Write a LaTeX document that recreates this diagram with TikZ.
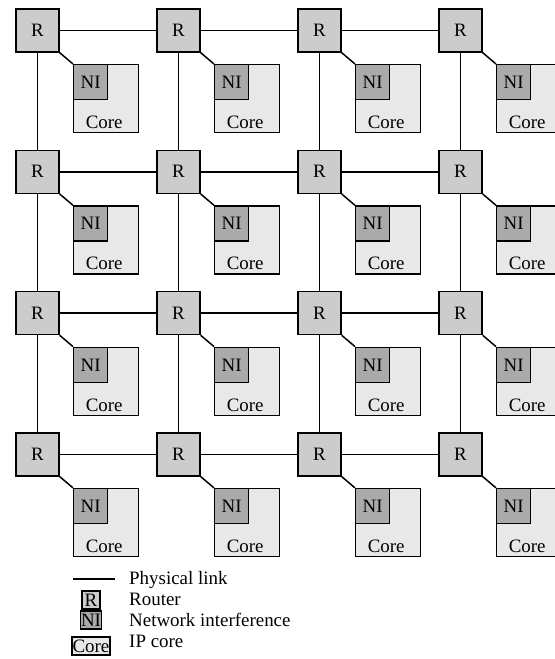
\documentclass[tikz,border=0pt]{standalone}
\usepackage{fontspec}
\setmainfont{Liberation Serif}
\definecolor{rfill}{RGB}{204,204,204}
\definecolor{nifill}{RGB}{170,170,170}
\definecolor{cfill}{RGB}{232,232,232}
\begin{document}
\begin{tikzpicture}[x=1bp,y=-1bp,
  every node/.style={font=\fontsize{19}{21}\selectfont},
  router/.style={draw,line width=1.4bp,fill=rfill,minimum width=43bp,minimum height=43bp,inner sep=0pt},
  corebox/.style={draw,line width=1.4bp,fill=cfill,minimum width=65bp,minimum height=68bp,inner sep=0pt,anchor=north west},
  nibox/.style={draw,line width=1.4bp,fill=nifill,minimum width=34bp,minimum height=35bp,inner sep=0pt,anchor=north west},
  link/.style={line width=1.5bp},
  lgbox/.style={draw,line width=1.2bp,inner sep=0.6bp,minimum height=18bp}]
\useasboundingbox (0,0) rectangle (555,659);
\clip (0,0) rectangle (555,659);
\foreach \i in {0,1,2,3}{
  \foreach \j in {0,1,2,3}{
    \pgfmathsetmacro{\cx}{37.5+141*\i}
    \pgfmathsetmacro{\cy}{30.5+141.3*\j}
    \node[corebox] (c\i\j) at (\cx+35.5,\cy+33.5) {};
    \node[nibox] (n\i\j) at (c\i\j.north west) {NI};
    \node[anchor=base,inner sep=0pt] at ([xshift=-2bp,yshift=5bp]c\i\j.south) {Core};
    \node[router] (r\i\j) at (\cx,\cy) {R};
    \draw[link] (r\i\j.south east) -- (c\i\j.north west);
  }
}
\foreach \i/\k in {0/1,1/2,2/3}{
  \foreach \j in {0,1,2,3}{
    \draw[link] (r\i\j) -- (r\k\j);
    \draw[link] (r\j\i) -- (r\j\k);
  }
}
% redraw routers on top of links
\foreach \i in {0,1,2,3}{
  \foreach \j in {0,1,2,3}{
    \node[router] at (r\i\j) {R};
  }
}
% legend
\coordinate (la) at (73,579);
\coordinate (lb) at (115,579);
\draw[link] (la) -- (lb);
\node[lgbox,fill=rfill,minimum width=18bp] (lr) at (91,600) {R};
\node[lgbox,fill=nifill,minimum width=21bp] (ln) at (91,620) {NI};
\node[lgbox,fill=cfill,minimum width=38bp] (lc) at (91,646) {Core};
\node[anchor=base west,inner sep=0pt] (t1) at (129,584) {Physical link};
\node[anchor=base west,inner sep=0pt] (t2) at (129,605) {Router};
\node[anchor=base west,inner sep=0pt] (t3) at (129,626) {Network interference};
\node[anchor=base west,inner sep=0pt] (t4) at (129,647) {IP core};
\end{tikzpicture}
\end{document}
